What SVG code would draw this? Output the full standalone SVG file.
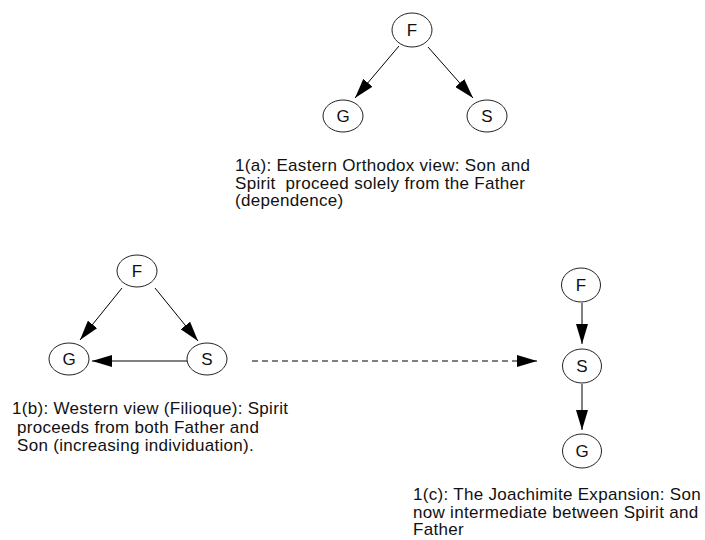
<svg xmlns="http://www.w3.org/2000/svg" width="705" height="540" viewBox="0 0 705 540">
<style>
.node{fill:#fff;stroke:#222;stroke-width:1}
.lbl{font-family:"Liberation Sans",Arial,sans-serif;font-size:17px;fill:#111;text-anchor:middle;dominant-baseline:central}
.cap{font-family:"Liberation Sans",Arial,sans-serif;font-size:17px;fill:#111;letter-spacing:0.3px;white-space:pre}
.edge{stroke:#000;stroke-width:1;fill:none}
.dash{stroke-dasharray:6 4}
</style>
<defs>
<marker id="ah" viewBox="0 0 20 12" refX="20" refY="6" markerWidth="20" markerHeight="12" markerUnits="userSpaceOnUse" orient="auto">
<path d="M0,0 L20,6 L0,12 z" fill="#000"/>
</marker>
</defs>
<rect width="705" height="540" fill="#fff"/>
<g id="connectors">
<line class="edge" x1="399" y1="46" x2="355" y2="98" marker-end="url(#ah)"/>
<line class="edge" x1="428" y1="47" x2="473" y2="98" marker-end="url(#ah)"/>
<line class="edge" x1="122" y1="288" x2="80" y2="340" marker-end="url(#ah)"/>
<line class="edge" x1="155" y1="288" x2="198" y2="341" marker-end="url(#ah)"/>
<line class="edge" x1="187" y1="361" x2="92" y2="361" marker-end="url(#ah)"/>
<line class="edge dash" x1="252" y1="361" x2="537" y2="361" marker-end="url(#ah)"/>
<line class="edge" x1="582" y1="303" x2="582" y2="344" marker-end="url(#ah)"/>
<line class="edge" x1="582" y1="384" x2="582" y2="430" marker-end="url(#ah)"/>
</g>
<g id="a-F"><ellipse class="node" cx="412" cy="30" rx="20" ry="17"/><text class="lbl" x="412" y="30">F</text></g>
<g id="a-G"><ellipse class="node" cx="343" cy="116" rx="20" ry="16"/><text class="lbl" x="343" y="116">G</text></g>
<g id="a-S"><ellipse class="node" cx="487" cy="116" rx="20" ry="16"/><text class="lbl" x="487" y="116">S</text></g>
<g id="b-F"><ellipse class="node" cx="137" cy="271" rx="20" ry="16"/><text class="lbl" x="137" y="271">F</text></g>
<g id="b-G"><ellipse class="node" cx="69" cy="359" rx="20" ry="16"/><text class="lbl" x="69" y="359">G</text></g>
<g id="b-S"><ellipse class="node" cx="207" cy="359" rx="20" ry="16"/><text class="lbl" x="207" y="359">S</text></g>
<g id="c-F"><ellipse class="node" cx="581" cy="285" rx="19.5" ry="17"/><text class="lbl" x="581" y="285">F</text></g>
<g id="c-S"><ellipse class="node" cx="582" cy="366" rx="19.5" ry="17"/><text class="lbl" x="582" y="366">S</text></g>
<g id="c-G"><ellipse class="node" cx="582" cy="451" rx="19.5" ry="17"/><text class="lbl" x="582" y="451">G</text></g>
<g id="caption-a">
<text class="cap" x="235" y="171">1(a): Eastern Orthodox view: Son and</text>
<text class="cap" x="235" y="188.5">Spirit  proceed solely from the Father</text>
<text class="cap" x="235" y="206">(dependence)</text>
</g>
<g id="caption-b">
<text class="cap" x="12" y="414">1(b): Western view (Filioque): Spirit</text>
<text class="cap" x="12" y="432.5"> proceeds from both Father and</text>
<text class="cap" x="12" y="451"> Son (increasing individuation).</text>
</g>
<g id="caption-c">
<text class="cap" x="413" y="500">1(c): The Joachimite Expansion: Son</text>
<text class="cap" x="413" y="517.5">now intermediate between Spirit and</text>
<text class="cap" x="413" y="535">Father</text>
</g>
</svg>
